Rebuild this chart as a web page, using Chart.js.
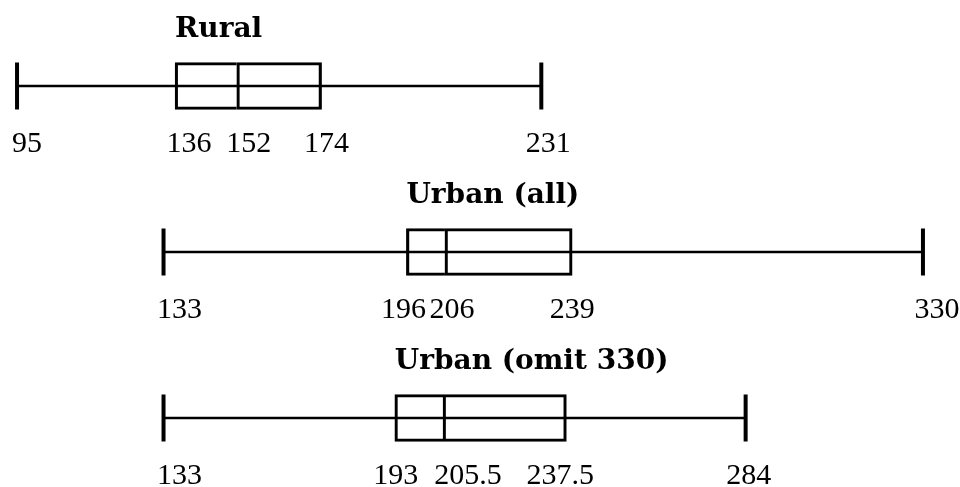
<!DOCTYPE html>
<html>
<head>
<meta charset="utf-8">
<script src="https://cdn.jsdelivr.net/npm/chart.js@4/dist/chart.umd.min.js"></script>
<style>
  html, body { margin: 0; padding: 0; background: #fff; }
  #wrap { width: 960px; height: 487px; }
</style>
</head>
<body>
<div id="wrap"><canvas id="chart"></canvas></div>
<script>
const groups = ["Rural", "Urban (all)", "Urban (omit 330)"];
const minVals = [95, 133, 133];
const q1Vals = [136, 196, 193];
const medVals = [152, 206, 205.5];
const q3Vals = [174, 239, 237.5];
const maxVals = [231, 330, 284];

// small horizontal nudges for the number labels (px), in order min, q1, med, q3, max
const labelNudge = [
  [10, 14, 12, 5, 7],
  [16, -3, 7, 0, 14],
  [16, 1, 25, -6, 3]
];

const numFont = "30px 'Liberation Serif', serif";
const titleFont = "bold 28px 'DejaVu Serif', serif";

const boxLabels = {
  id: "boxLabels",
  afterDraw(chart) {
    const ctx = chart.ctx;
    const xs = chart.scales.x, ys = chart.scales.y;
    ctx.save();
    ctx.fillStyle = "#000";
    groups.forEach((g, i) => {
      const yc = ys.getPixelForValue(i);
      ctx.font = titleFont;
      ctx.textAlign = "left";
      ctx.textBaseline = "alphabetic";
      ctx.fillText(g, xs.getPixelForValue(q1Vals[i]), yc - 49);

      ctx.font = numFont;
      ctx.textAlign = "center";
      const vals = [minVals[i], q1Vals[i], medVals[i], q3Vals[i], maxVals[i]];
      vals.forEach((v, j) => {
        ctx.fillText(String(v), xs.getPixelForValue(v) + labelNudge[i][j], yc + 66);
      });
    });
    ctx.restore();
  }
};

const ctx = document.getElementById("chart").getContext("2d");

new Chart(ctx, {
  type: "bar",
  data: {
    labels: groups,
    datasets: [
      {
        label: "whisker",
        data: groups.map((g, i) => [minVals[i], maxVals[i]]),
        backgroundColor: "#000",
        borderWidth: 0,
        barThickness: 2,
        grouped: false,
        clip: false
      },
      {
        label: "lower box",
        data: groups.map((g, i) => [q1Vals[i], medVals[i]]),
        backgroundColor: "rgba(0,0,0,0)",
        borderColor: "#000",
        borderWidth: 2.5,
        borderSkipped: "end",
        barThickness: 47,
        grouped: false,
        clip: false
      },
      {
        label: "upper box",
        data: groups.map((g, i) => [medVals[i], q3Vals[i]]),
        backgroundColor: "rgba(0,0,0,0)",
        borderColor: "#000",
        borderWidth: 2.5,
        borderSkipped: false,
        barThickness: 47,
        grouped: false,
        clip: false
      },
      {
        type: "scatter",
        label: "caps",
        data: groups.flatMap((g, i) => [{ x: minVals[i], y: g }, { x: maxVals[i], y: g }]),
        pointStyle: "line",
        rotation: 90,
        pointRadius: 23.5,
        pointHoverRadius: 23.5,
        borderColor: "#000",
        pointBorderWidth: 4,
        borderWidth: 4,
        showLine: false,
        clip: false
      }
    ]
  },
  options: {
    indexAxis: "y",
    responsive: true,
    maintainAspectRatio: false,
    animation: false,
    layout: { autoPadding: false, padding: { top: 86, bottom: 69, left: 0, right: 0 } },
    scales: {
      x: { type: "linear", display: false, min: 90.58, max: 339.61 },
      y: { type: "category", display: false, offset: false }
    },
    plugins: {
      legend: { display: false },
      tooltip: { enabled: false }
    }
  },
  plugins: [boxLabels]
});
</script>
</body>
</html>
